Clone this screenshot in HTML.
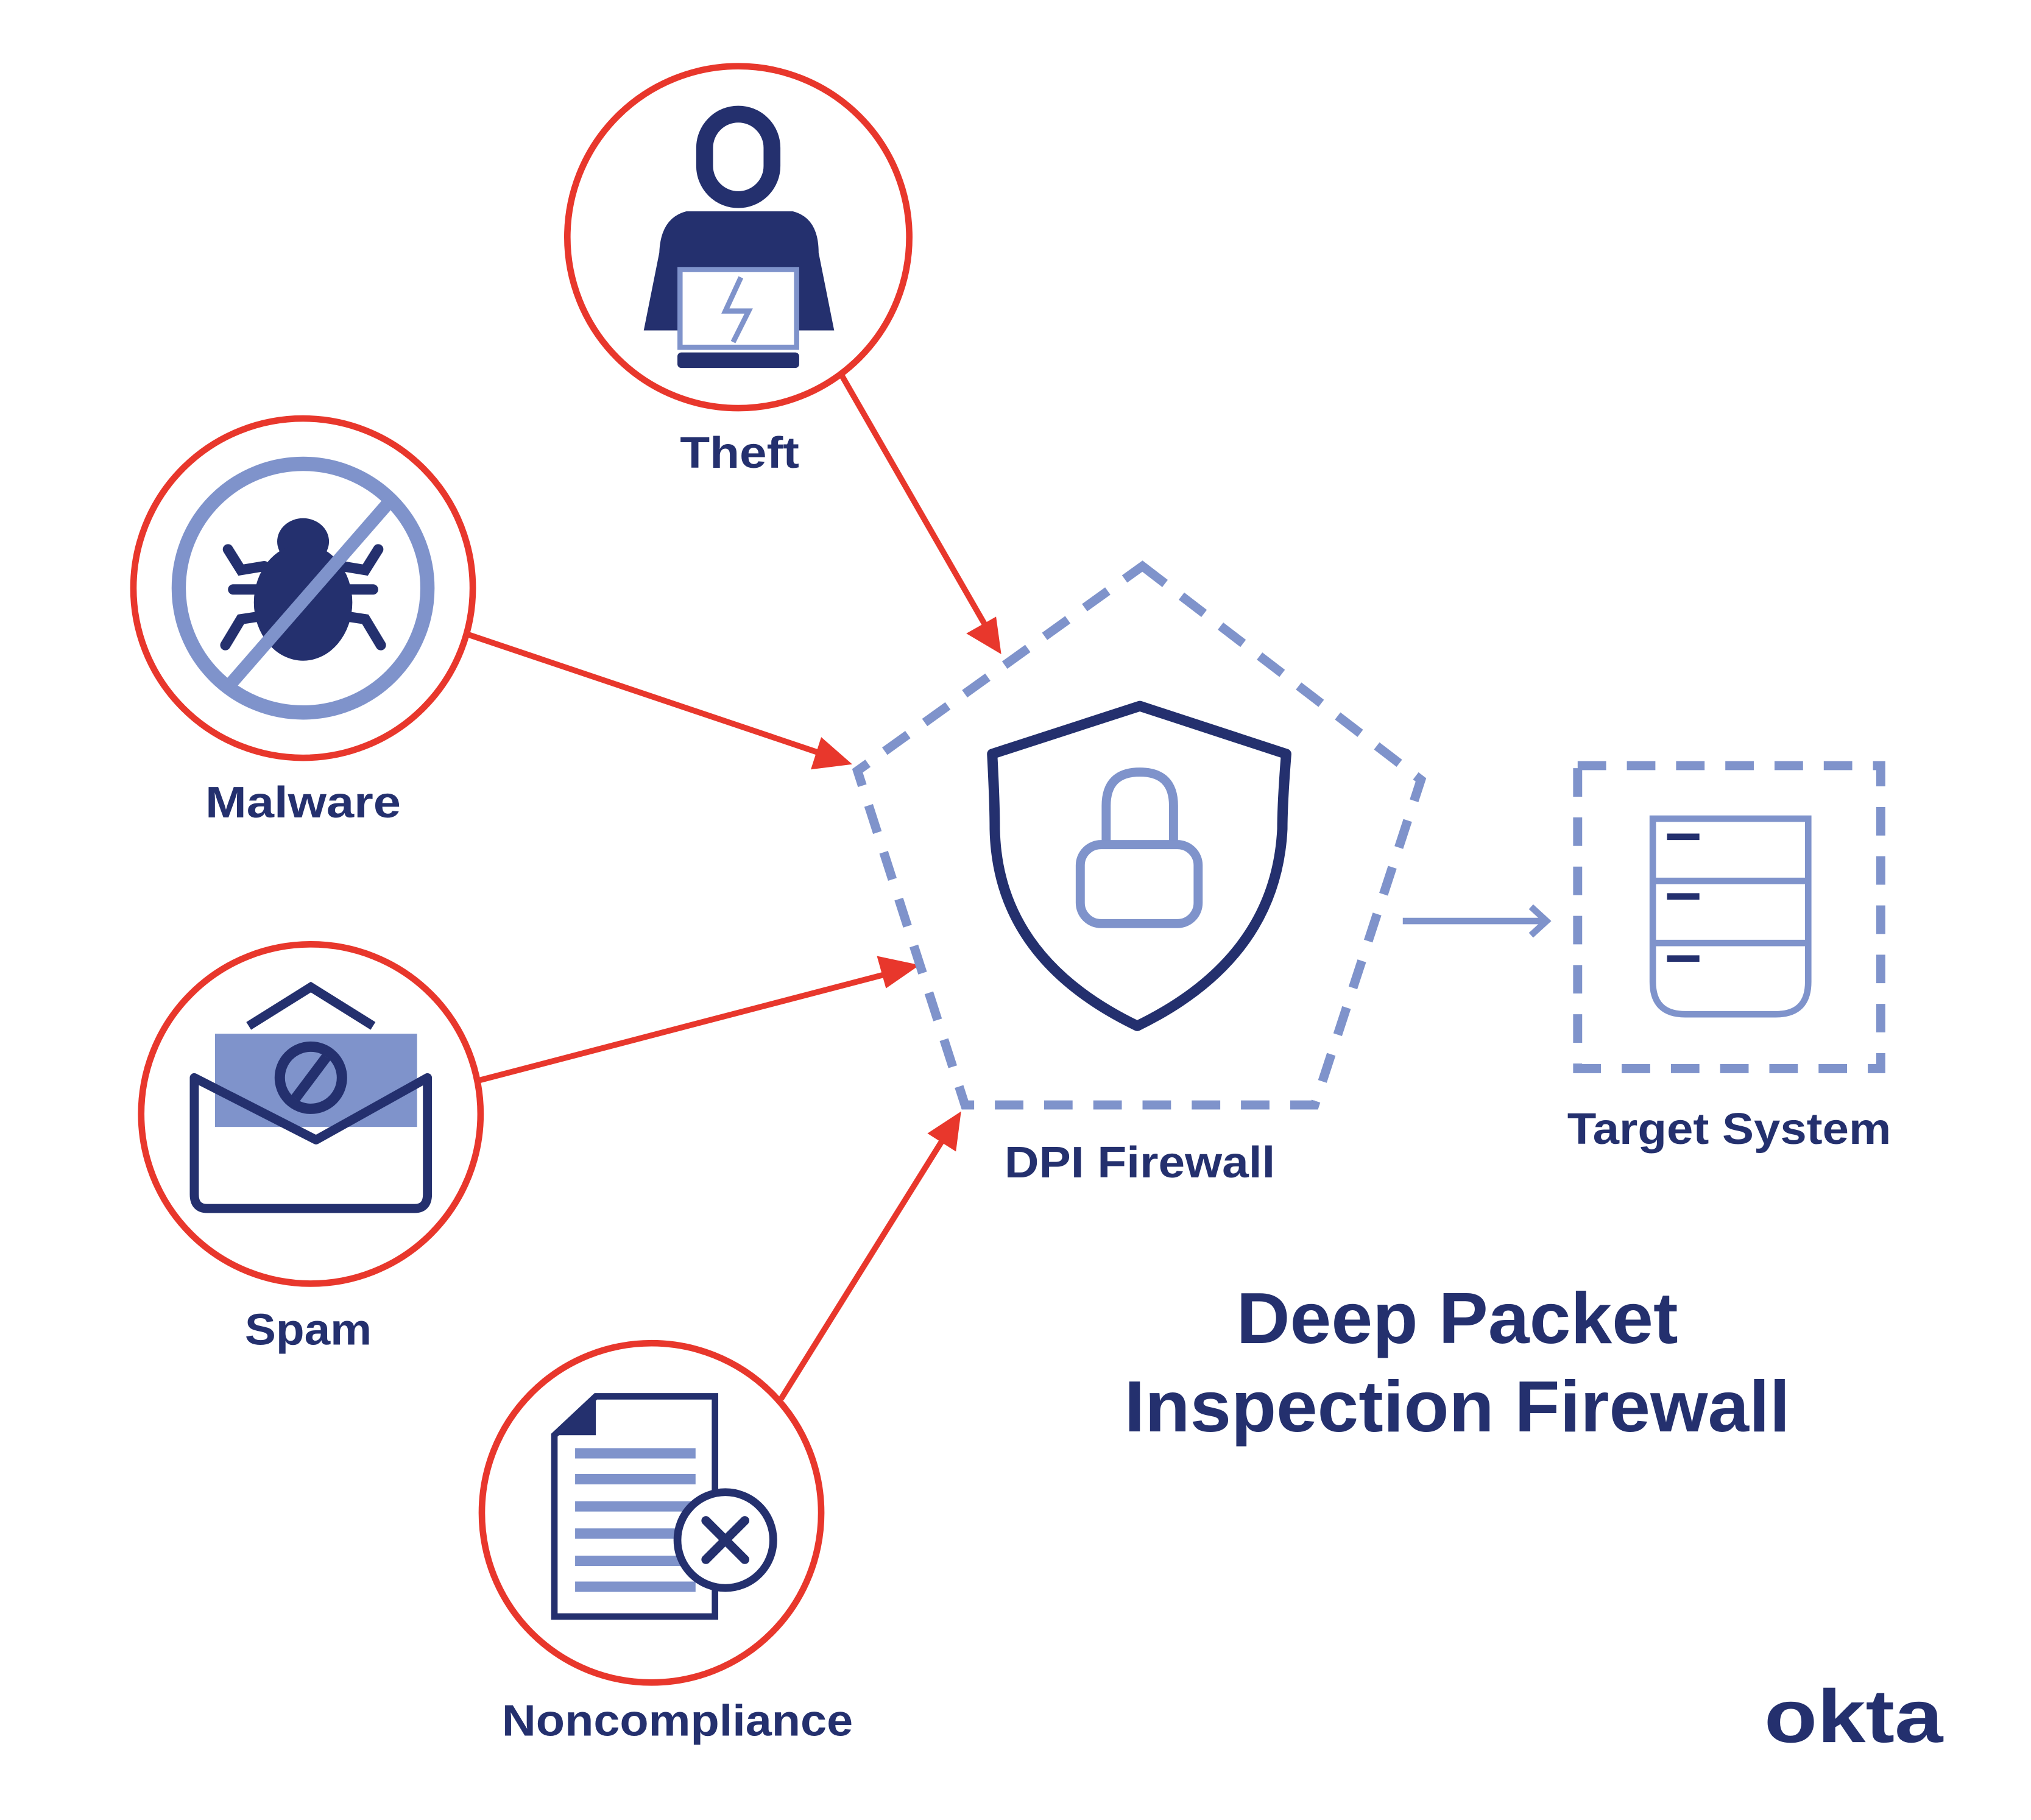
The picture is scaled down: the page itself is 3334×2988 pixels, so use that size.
<!DOCTYPE html>
<html><head><meta charset="utf-8"><style>
html,body{margin:0;padding:0;background:#fff;}
svg{display:block;}
text{font-family:"Liberation Sans",sans-serif;font-weight:bold;fill:#24306e;}
</style></head><body>
<svg width="3334" height="2988" viewBox="0 0 1568 1405" xmlns="http://www.w3.org/2000/svg">
<rect width="1568" height="1405" fill="#fff"/>

<g stroke="#e8372c" stroke-width="4.5" fill="#e8372c">
<line x1="650" y1="290" x2="762" y2="485"/>
<polygon points="773,505 746,489 769,476" stroke="none"/>
<line x1="362" y1="490" x2="635" y2="582"/>
<polygon points="658,590 626,594 634,569" stroke="none"/>
<line x1="370" y1="834" x2="688" y2="751"/>
<polygon points="710,745 684,763 677,738" stroke="none"/>
<line x1="603" y1="1080" x2="729" y2="878"/>
<polygon points="742,858 738,889 716,875" stroke="none"/>
</g>

<g fill="none" stroke="#e8372c" stroke-width="5">
<circle cx="570" cy="183" r="132"/>
<circle cx="234" cy="454" r="131"/>
<circle cx="240" cy="860" r="131"/>
<circle cx="503" cy="1168" r="131"/>
</g>

<rect x="544" y="88" width="52" height="66" rx="26" fill="none" stroke="#24306e" stroke-width="13"/>
<path d="M530,163 L612,163 Q632,168 632,195 L644,255 L497,255 L509,195 Q510,168 530,163 Z" fill="#24306e"/>
<rect x="525" y="208" width="90" height="60" fill="#fff" stroke="#7f93cb" stroke-width="4"/>
<rect x="523" y="272" width="94" height="12" rx="3" fill="#24306e"/>
<polyline points="572,214 560,240 578,240 566,264" fill="none" stroke="#7f93cb" stroke-width="4"/>

<g stroke="#24306e" stroke-width="8" stroke-linecap="round" fill="none">
<polyline points="200,455 180,455"/><polyline points="268,455 288,455"/>
<polyline points="204,437 186,440 176,424"/><polyline points="264,437 282,440 292,424"/>
<polyline points="206,475 186,478 174,498"/><polyline points="262,475 282,478 294,498"/>
</g>
<ellipse cx="234" cy="418" rx="20" ry="18" fill="#24306e"/>
<ellipse cx="234" cy="465" rx="38" ry="45" fill="#24306e"/>
<circle cx="234" cy="454" r="96" fill="none" stroke="#7f93cb" stroke-width="11"/>
<line x1="300" y1="388" x2="178" y2="528" stroke="#7f93cb" stroke-width="10"/>

<polyline points="192,792 240,762 288,792" fill="none" stroke="#24306e" stroke-width="7"/>
<rect x="166" y="798" width="156" height="72" fill="#7f93cb"/>
<circle cx="240" cy="832" r="24" fill="none" stroke="#24306e" stroke-width="8"/>
<line x1="228" y1="848" x2="252" y2="816" stroke="#24306e" stroke-width="8"/>
<path d="M150,832 L244,880 L330,832 L330,922 Q330,933 320,933 L160,933 Q150,933 150,922 Z" fill="none" stroke="#24306e" stroke-width="7" stroke-linejoin="round"/>

<path d="M460,1078 L552,1078 L552,1248 L428,1248 L428,1108 Z" fill="#fff" stroke="#24306e" stroke-width="5"/>
<polygon points="428,1108 460,1078 460,1108" fill="#24306e"/>
<g stroke="#7f93cb" stroke-width="8">
<line x1="444" y1="1122" x2="537" y2="1122"/><line x1="444" y1="1142" x2="537" y2="1142"/>
<line x1="444" y1="1163" x2="537" y2="1163"/><line x1="444" y1="1184" x2="537" y2="1184"/>
<line x1="444" y1="1205" x2="537" y2="1205"/><line x1="444" y1="1225" x2="537" y2="1225"/>
</g>
<circle cx="560" cy="1189" r="37" fill="#fff" stroke="#24306e" stroke-width="6"/>
<g stroke="#24306e" stroke-width="7" stroke-linecap="round"><line x1="545" y1="1174" x2="575" y2="1204"/><line x1="575" y1="1174" x2="545" y2="1204"/></g>

<polygon points="882,437 1097,602 1015,853 745,853 662,595" fill="none" stroke="#7f93cb" stroke-width="7" stroke-dasharray="22 16"/>
<path d="M766,582 L880,545 L993,582 Q990,620 990,640 Q985,740 878,792 Q770,740 768,640 Q768,620 766,582 Z" fill="none" stroke="#24306e" stroke-width="8" stroke-linejoin="round"/>
<path d="M854,652 L854,622 Q854,596 880,596 Q906,596 906,622 L906,652" fill="none" stroke="#7f93cb" stroke-width="7"/>
<rect x="834" y="652" width="91" height="61" rx="16" fill="none" stroke="#7f93cb" stroke-width="7"/>

<line x1="1083" y1="711" x2="1193" y2="711" stroke="#7f93cb" stroke-width="5"/>
<polyline points="1182,700 1194,711 1182,722" fill="none" stroke="#7f93cb" stroke-width="5"/>

<rect x="1218" y="591" width="234" height="234" fill="none" stroke="#7f93cb" stroke-width="7" stroke-dasharray="22 16"/>
<path d="M1276,632 L1396,632 L1396,758 Q1396,783 1371,783 L1301,783 Q1276,783 1276,758 Z" fill="none" stroke="#7f93cb" stroke-width="5"/>
<line x1="1276" y1="680" x2="1396" y2="680" stroke="#7f93cb" stroke-width="5"/>
<line x1="1276" y1="728" x2="1396" y2="728" stroke="#7f93cb" stroke-width="5"/>
<g stroke="#24306e" stroke-width="5"><line x1="1287" y1="646" x2="1312" y2="646"/><line x1="1287" y1="692" x2="1312" y2="692"/><line x1="1287" y1="740" x2="1312" y2="740"/></g>

<g font-size="34" text-anchor="middle" lengthAdjust="spacingAndGlyphs">
<text x="571" y="361" textLength="92" lengthAdjust="spacingAndGlyphs">Theft</text>
<text x="234" y="631" textLength="151" lengthAdjust="spacingAndGlyphs">Malware</text>
<text x="238" y="1038" textLength="98" lengthAdjust="spacingAndGlyphs">Spam</text>
<text x="523" y="1340" textLength="271" lengthAdjust="spacingAndGlyphs">Noncompliance</text>
<text x="880" y="909" textLength="209" lengthAdjust="spacingAndGlyphs">DPI Firewall</text>
<text x="1335" y="883" textLength="250" lengthAdjust="spacingAndGlyphs">Target System</text>
</g>
<g font-size="56" text-anchor="middle">
<text x="1125" y="1037" textLength="341" lengthAdjust="spacingAndGlyphs">Deep Packet</text>
<text x="1125" y="1105" textLength="514" lengthAdjust="spacingAndGlyphs">Inspection Firewall</text>
</g>
<text x="1431" y="1345" font-size="58" text-anchor="middle" textLength="138" lengthAdjust="spacingAndGlyphs">okta</text>
</svg>
</body></html>
